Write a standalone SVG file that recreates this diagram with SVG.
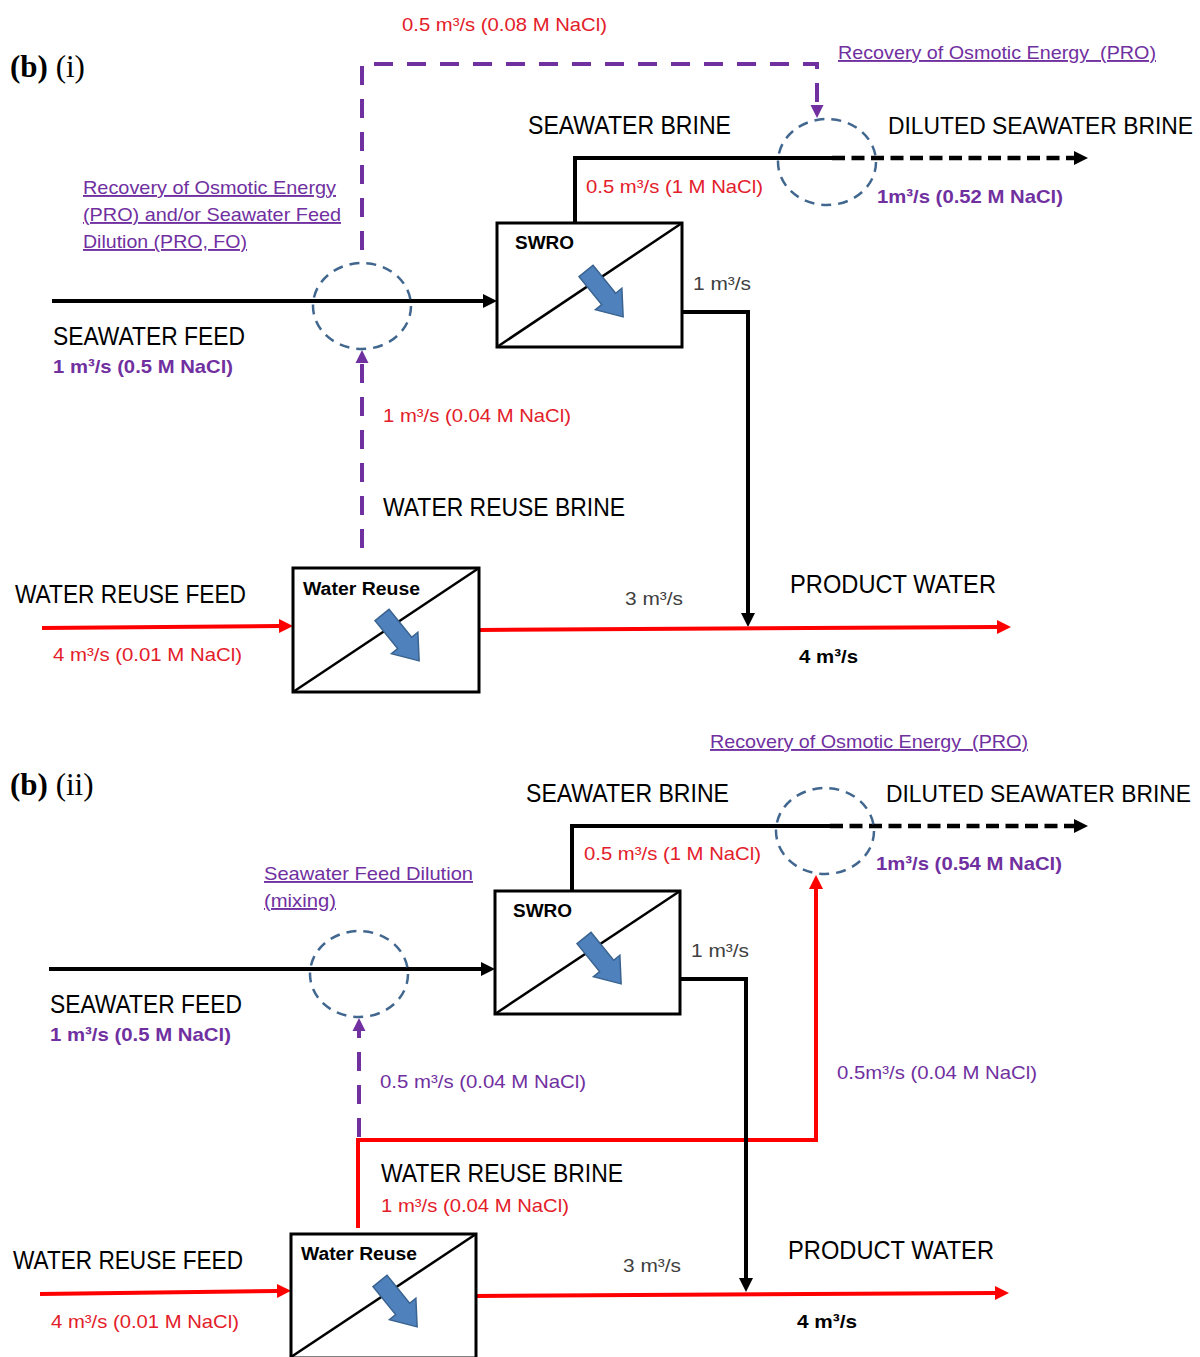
<svg xmlns="http://www.w3.org/2000/svg" width="1200" height="1357" viewBox="0 0 1200 1357">
<style>
text{font-family:"Liberation Sans",Arial,sans-serif;}
.big{font-size:25px;fill:#000;}
.big2{font-size:23px;fill:#000;}
.sm{font-size:19px;}
.red{fill:#e3202a;}
.pur{fill:#7030a0;}
.gray{fill:#404040;}
.b{font-weight:bold;}
.u{text-decoration:underline;}
.box{font-size:18px;font-weight:bold;fill:#000;}
.fig{font-family:"Liberation Serif","Times New Roman",serif;font-size:31px;fill:#000;}
.unit{fill:#fff;stroke:#000;stroke-width:3;}
.diag{stroke:#000;stroke-width:2.5;}
.mix{fill:none;stroke:#41678f;stroke-width:2.5;stroke-dasharray:10 7;}
.bl{fill:none;stroke:#000;stroke-width:4;}
.bld{fill:none;stroke:#000;stroke-width:4.5;stroke-dasharray:13 6.5;}
.rl{fill:none;stroke:#ff0000;stroke-width:4;}
.pl{fill:none;stroke:#7030a0;stroke-width:4;stroke-dasharray:19 14;}
.perm{fill:#4f81bd;stroke:#3a6390;stroke-width:1.5;}
</style>
<defs>
<marker id="aB" markerUnits="userSpaceOnUse" markerWidth="16" markerHeight="16" viewBox="0 -8 16 16" refX="0" refY="0" orient="auto"><path d="M0,-7 L14,0 L0,7 z" fill="#000"/></marker>
<marker id="aR" markerUnits="userSpaceOnUse" markerWidth="16" markerHeight="16" viewBox="0 -8 16 16" refX="0" refY="0" orient="auto"><path d="M0,-7 L14,0 L0,7 z" fill="#ff0000"/></marker>
<marker id="aP" markerUnits="userSpaceOnUse" markerWidth="16" markerHeight="16" viewBox="0 -8 16 16" refX="0" refY="0" orient="auto"><path d="M0,-6.5 L13,0 L0,6.5 z" fill="#7030a0"/></marker>
<path id="permArrow" d="M0,-9 L36,-9 L36,-17 L59,0 L36,17 L36,9 L0,9 z"/>
</defs>

<!-- ================= Panel (b)(i) ================= -->
<g id="title-i"><text class="fig" x="10" y="77"><tspan font-weight="bold">(b)</tspan> (i)</text></g>

<g id="connectors-i">
  <line class="bl" x1="52" y1="301" x2="483" y2="301" marker-end="url(#aB)"/>
  <polyline class="bl" points="575,223 575,158 832,158"/>
  <line class="bld" x1="832" y1="158" x2="1074" y2="158" marker-end="url(#aB)"/>
  <polyline class="bl" points="682,312 748,312 748,613" marker-end="url(#aB)"/>
  <line class="rl" x1="42" y1="628" x2="279" y2="626" marker-end="url(#aR)"/>
  <line class="rl" x1="479" y1="630" x2="997" y2="627" marker-end="url(#aR)"/>
  <line class="pl" x1="362" y1="548" x2="362" y2="363" marker-end="url(#aP)"/>
  <polyline class="pl" points="362,250 362,64 817,64 817,105" marker-end="url(#aP)"/>
</g>

<g id="mix-feed-i"><ellipse class="mix" cx="362" cy="306" rx="49" ry="43"/></g>
<g id="mix-brine-i"><ellipse class="mix" cx="827" cy="162" rx="49" ry="43"/></g>

<g id="swro-i">
  <rect class="unit" x="497" y="223" width="185" height="124"/>
  <line class="diag" x1="497" y1="347" x2="682" y2="223"/>
  <use href="#permArrow" class="perm" transform="translate(586,271) rotate(51)"/>
  <text class="box" x="515" y="249" textLength="59" lengthAdjust="spacingAndGlyphs">SWRO</text>
</g>

<g id="reuse-i">
  <rect class="unit" x="293" y="568" width="186" height="124"/>
  <line class="diag" x1="293" y1="692" x2="479" y2="568"/>
  <use href="#permArrow" class="perm" transform="translate(382,615) rotate(51)"/>
  <text class="box" x="303" y="595" textLength="117" lengthAdjust="spacingAndGlyphs">Water Reuse</text>
</g>

<g id="labels-i">
  <text class="sm red" x="402" y="31" textLength="205" lengthAdjust="spacingAndGlyphs">0.5 m³/s (0.08 M NaCl)</text>
  <text class="sm pur u" x="838" y="59" xml:space="preserve" textLength="318" lengthAdjust="spacingAndGlyphs">Recovery of Osmotic Energy  (PRO)</text>
  <text class="big" x="528" y="134" textLength="203" lengthAdjust="spacingAndGlyphs">SEAWATER BRINE</text>
  <text class="big2" x="888" y="134" textLength="305" lengthAdjust="spacingAndGlyphs">DILUTED SEAWATER BRINE</text>
  <text class="sm red" x="586" y="193" textLength="177" lengthAdjust="spacingAndGlyphs">0.5 m³/s (1 M NaCl)</text>
  <text class="sm pur b" x="877" y="203" textLength="186" lengthAdjust="spacingAndGlyphs">1m³/s (0.52 M NaCl)</text>
  <text class="sm pur u" x="83" y="194" textLength="253" lengthAdjust="spacingAndGlyphs">Recovery of Osmotic Energy</text>
  <text class="sm pur u" x="83" y="221" textLength="258" lengthAdjust="spacingAndGlyphs">(PRO) and/or Seawater Feed</text>
  <text class="sm pur u" x="83" y="248" textLength="164" lengthAdjust="spacingAndGlyphs">Dilution (PRO, FO)</text>
  <text class="sm gray" x="693" y="290" textLength="58" lengthAdjust="spacingAndGlyphs">1 m³/s</text>
  <text class="big" x="53" y="345" textLength="192" lengthAdjust="spacingAndGlyphs">SEAWATER FEED</text>
  <text class="sm pur b" x="53" y="373" textLength="180" lengthAdjust="spacingAndGlyphs">1 m³/s (0.5 M NaCl)</text>
  <text class="sm red" x="383" y="422" textLength="188" lengthAdjust="spacingAndGlyphs">1 m³/s (0.04 M NaCl)</text>
  <text class="big" x="383" y="516" textLength="242" lengthAdjust="spacingAndGlyphs">WATER REUSE BRINE</text>
  <text class="big" x="15" y="603" textLength="231" lengthAdjust="spacingAndGlyphs">WATER REUSE FEED</text>
  <text class="sm red" x="53" y="661" textLength="189" lengthAdjust="spacingAndGlyphs">4 m³/s (0.01 M NaCl)</text>
  <text class="sm gray" x="625" y="605" textLength="58" lengthAdjust="spacingAndGlyphs">3 m³/s</text>
  <text class="big" x="790" y="593" textLength="206" lengthAdjust="spacingAndGlyphs">PRODUCT WATER</text>
  <text class="sm b" x="799" y="663" textLength="59" lengthAdjust="spacingAndGlyphs">4 m³/s</text>
</g>

<!-- ================= Panel (b)(ii) ================= -->
<g id="title-ii"><text class="fig" x="10" y="795"><tspan font-weight="bold">(b)</tspan> (ii)</text></g>

<g id="connectors-ii">
  <line class="bl" x1="49" y1="969" x2="481" y2="969" marker-end="url(#aB)"/>
  <polyline class="bl" points="572,891 572,826 830,826"/>
  <line class="bld" x1="830" y1="826" x2="1074" y2="826" marker-end="url(#aB)"/>
  <polyline class="rl" points="358,1228 358,1140 816,1140 816,889" marker-end="url(#aR)"/>
  <polyline class="bl" points="680,979 746,979 746,1278" marker-end="url(#aB)"/>
  <line class="rl" x1="40" y1="1294" x2="277" y2="1291" marker-end="url(#aR)"/>
  <line class="rl" x1="476" y1="1296" x2="995" y2="1293" marker-end="url(#aR)"/>
  <line class="pl" x1="359" y1="1137" x2="359" y2="1031" marker-end="url(#aP)"/>
</g>

<g id="mix-feed-ii"><ellipse class="mix" cx="359" cy="974" rx="49" ry="43"/></g>
<g id="mix-brine-ii"><ellipse class="mix" cx="825" cy="831" rx="49" ry="43"/></g>

<g id="swro-ii">
  <rect class="unit" x="495" y="891" width="185" height="123"/>
  <line class="diag" x1="495" y1="1014" x2="680" y2="891"/>
  <use href="#permArrow" class="perm" transform="translate(584,938) rotate(51)"/>
  <text class="box" x="513" y="917" textLength="59" lengthAdjust="spacingAndGlyphs">SWRO</text>
</g>

<g id="reuse-ii">
  <rect class="unit" x="291" y="1234" width="185" height="124"/>
  <line class="diag" x1="291" y1="1357" x2="476" y2="1234"/>
  <use href="#permArrow" class="perm" transform="translate(380,1281) rotate(51)"/>
  <text class="box" x="301" y="1260" textLength="116" lengthAdjust="spacingAndGlyphs">Water Reuse</text>
</g>

<g id="labels-ii">
  <text class="sm pur u" x="710" y="748" xml:space="preserve" textLength="318" lengthAdjust="spacingAndGlyphs">Recovery of Osmotic Energy  (PRO)</text>
  <text class="big" x="526" y="802" textLength="203" lengthAdjust="spacingAndGlyphs">SEAWATER BRINE</text>
  <text class="big2" x="886" y="802" textLength="305" lengthAdjust="spacingAndGlyphs">DILUTED SEAWATER BRINE</text>
  <text class="sm red" x="584" y="860" textLength="177" lengthAdjust="spacingAndGlyphs">0.5 m³/s (1 M NaCl)</text>
  <text class="sm pur b" x="876" y="870" textLength="186" lengthAdjust="spacingAndGlyphs">1m³/s (0.54 M NaCl)</text>
  <text class="sm pur u" x="264" y="880" textLength="209" lengthAdjust="spacingAndGlyphs">Seawater Feed Dilution</text>
  <text class="sm pur u" x="264" y="907" textLength="72" lengthAdjust="spacingAndGlyphs">(mixing)</text>
  <text class="sm gray" x="691" y="957" textLength="58" lengthAdjust="spacingAndGlyphs">1 m³/s</text>
  <text class="big" x="50" y="1013" textLength="192" lengthAdjust="spacingAndGlyphs">SEAWATER FEED</text>
  <text class="sm pur b" x="50" y="1041" textLength="181" lengthAdjust="spacingAndGlyphs">1 m³/s (0.5 M NaCl)</text>
  <text class="sm pur" x="380" y="1088" textLength="206" lengthAdjust="spacingAndGlyphs">0.5 m³/s (0.04 M NaCl)</text>
  <text class="sm pur" x="837" y="1079" textLength="200" lengthAdjust="spacingAndGlyphs">0.5m³/s (0.04 M NaCl)</text>
  <text class="big" x="381" y="1182" textLength="242" lengthAdjust="spacingAndGlyphs">WATER REUSE BRINE</text>
  <text class="sm red" x="381" y="1212" textLength="188" lengthAdjust="spacingAndGlyphs">1 m³/s (0.04 M NaCl)</text>
  <text class="big" x="13" y="1269" textLength="230" lengthAdjust="spacingAndGlyphs">WATER REUSE FEED</text>
  <text class="sm red" x="51" y="1328" textLength="188" lengthAdjust="spacingAndGlyphs">4 m³/s (0.01 M NaCl)</text>
  <text class="sm gray" x="623" y="1272" textLength="58" lengthAdjust="spacingAndGlyphs">3 m³/s</text>
  <text class="big" x="788" y="1259" textLength="206" lengthAdjust="spacingAndGlyphs">PRODUCT WATER</text>
  <text class="sm b" x="797" y="1328" textLength="60" lengthAdjust="spacingAndGlyphs">4 m³/s</text>
</g>
</svg>
